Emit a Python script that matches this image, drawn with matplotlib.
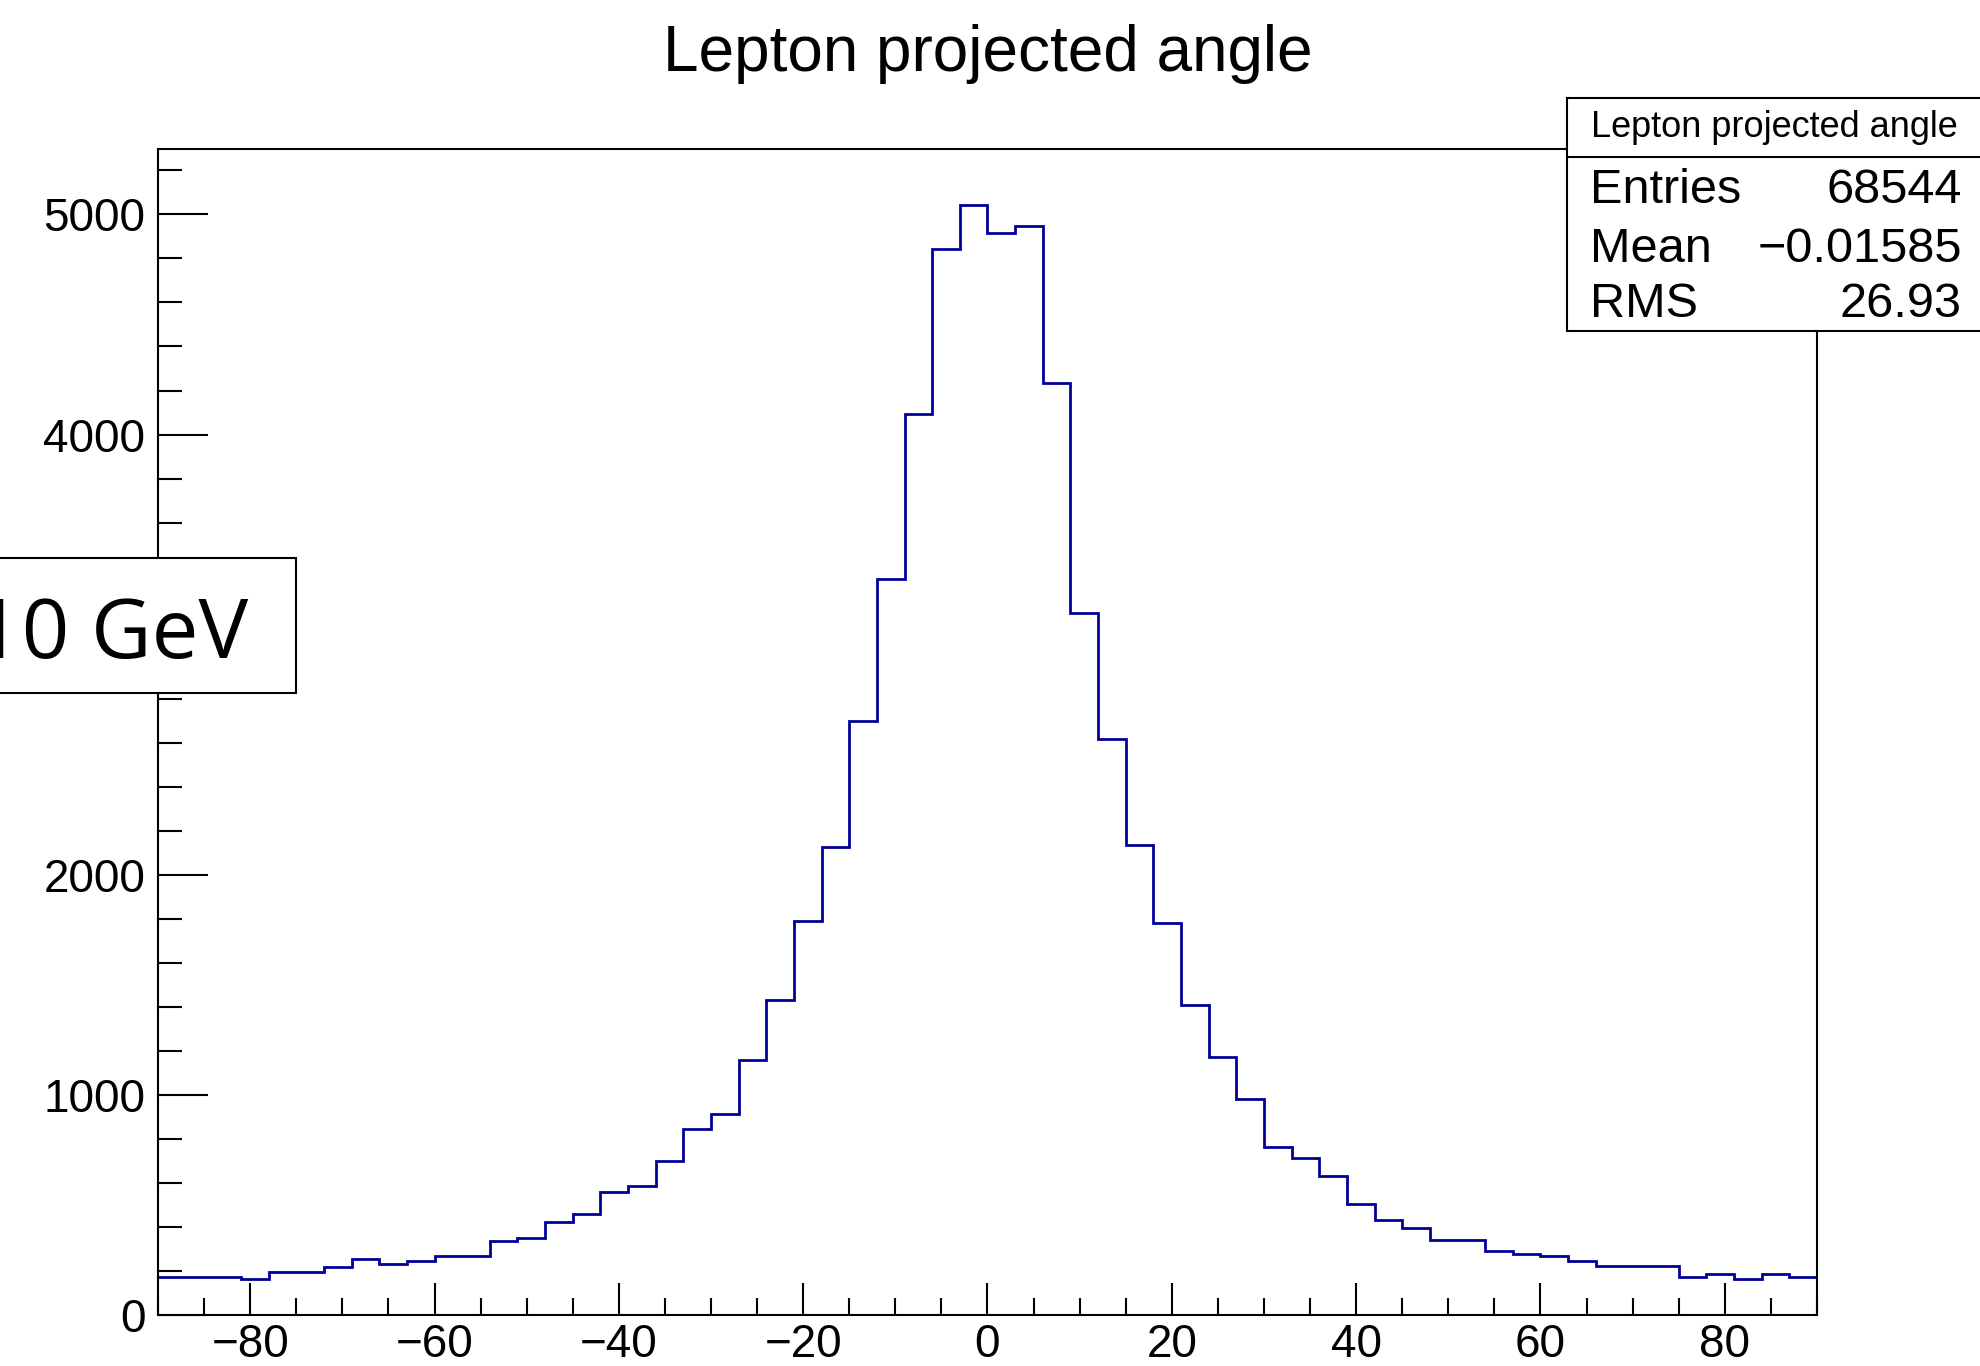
import numpy as np
import matplotlib.pyplot as plt
from matplotlib.patches import Rectangle

plt.rcParams['font.family'] = ['Liberation Sans', 'DejaVu Sans']

# histogram: 60 bins of 3 degrees from -90 to 90, contents
bin_lo = -90
bin_hi = 90
bin_width = 3
counts = [174, 174, 174, 162, 197, 197, 219, 256, 231, 245,
          266, 266, 337, 348, 421, 457, 561, 585, 700, 843,
          912, 1160, 1429, 1792, 2126, 2700, 3343, 4095, 4843, 5045,
          4916, 4949, 4235, 3190, 2617, 2136, 1782, 1407, 1172, 983,
          761, 715, 632, 504, 431, 396, 339, 339, 292, 278,
          266, 244, 221, 221, 221, 174, 185, 162, 185, 174]

title = 'Lepton projected angle'
stat_names = ['Entries', 'Mean', 'RMS']
stat_values = ['68544', '\u22120.01585', '26.93']
label_text = '10 GeV'

edges = np.arange(bin_lo, bin_hi + bin_width, bin_width)

W, H = 1981, 1366
fig = plt.figure(figsize=(W / 100, H / 100), dpi=100)

# main frame (pixel positions of the frame in the picture)
ax = fig.add_axes([158 / W, 1 - 1315 / H, (1817 - 158) / W, (1315 - 149) / H])
ax.stairs(counts, edges, color='#000099', lw=2, baseline=None)
ax.set_xlim(bin_lo, bin_hi)
ax.set_ylim(0, max(counts) * 1.05)
ax.set_xticks(range(-80, 81, 20))
ax.set_xticks(np.arange(-90, 91, 5), minor=True)
ax.set_yticks(range(0, 5001, 1000))
ax.set_yticks(range(0, 5300, 200), minor=True)
ax.tick_params(which='both', direction='in', top=False, right=False,
               labelsize=33, width=1.5)
ax.tick_params(axis='x', which='major', length=23, pad=6)
ax.tick_params(axis='x', which='minor', length=12.5)
ax.tick_params(axis='y', which='major', length=36, pad=9)
ax.tick_params(axis='y', which='minor', length=17.5)
for s in ax.spines.values():
    s.set_linewidth(1.5)

fig.text(988 / W, 1 - 71 / H, title, ha='center', va='baseline', fontsize=46)

# overlay in pixel coords for the stats box and the pasted label
ov = fig.add_axes([0, 0, 1, 1], zorder=10)
ov.set_xlim(0, W)
ov.set_ylim(H, 0)
ov.axis('off')

ov.add_patch(Rectangle((1567, 98), 430, 233, fc='white', ec='black', lw=1.5))
ov.plot([1567, W], [157, 157], color='black', lw=1.5)
ov.text(1774, 137, title, ha='center', va='baseline', fontsize=26)
for name, val, yb in zip(stat_names, stat_values, [203, 262, 317]):
    ov.text(1590, yb, name, ha='left', va='baseline', fontsize=35)
    ov.text(1962, yb, val, ha='right', va='baseline', fontsize=35)

ov.add_patch(Rectangle((-5, 558), 301, 135, fc='white', ec='black', lw=1.5))
ov.text(248, 658, label_text, ha='right', va='baseline', fontsize=60,
        family=['Open Sans', 'DejaVu Sans'])

fig.savefig('out.png', dpi=100)
